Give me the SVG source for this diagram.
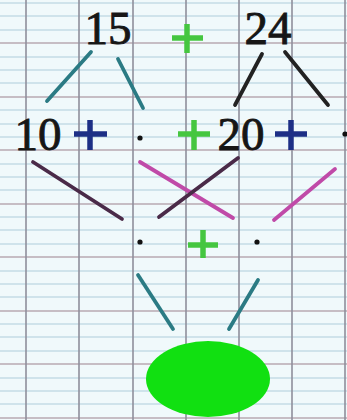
<svg xmlns="http://www.w3.org/2000/svg" width="347" height="420" viewBox="0 0 347 420">
<defs>
<style>
.minor{stroke:#c4dbe6;stroke-width:1.3}
.major{stroke:#b8a9b2;stroke-width:1.6}
.vert{stroke:#8f8f9c;stroke-width:1.6}
.num{font-family:"Liberation Serif",serif;font-size:47px;fill:#161616;stroke:#161616;stroke-width:0.9;text-anchor:middle}
.teal{stroke:#2b7b84;stroke-width:3.8;stroke-linecap:round}
.blk{stroke:#222;stroke-width:3.8;stroke-linecap:round}
.dk{stroke:#4a2a48;stroke-width:3.8;stroke-linecap:round}
.pink{stroke:#c04aa8;stroke-width:3.8;stroke-linecap:round}
.gp{stroke:#45c640;stroke-width:5.5}
.bp{stroke:#1d2f86;stroke-width:5.5}
</style>
</defs>
<rect width="347" height="420" fill="#f0f9fb"/>
<g id="grid">
<g class="minor">
<line x1="0" y1="3" x2="347" y2="3"/><line x1="0" y1="16" x2="347" y2="16"/><line x1="0" y1="30" x2="347" y2="30"/>
<line x1="0" y1="57" x2="347" y2="57"/><line x1="0" y1="70" x2="347" y2="70"/><line x1="0" y1="83" x2="347" y2="83"/>
<line x1="0" y1="110" x2="347" y2="110"/><line x1="0" y1="124" x2="347" y2="124"/><line x1="0" y1="137" x2="347" y2="137"/>
<line x1="0" y1="164" x2="347" y2="164"/><line x1="0" y1="177" x2="347" y2="177"/><line x1="0" y1="190" x2="347" y2="190"/>
<line x1="0" y1="217" x2="347" y2="217"/><line x1="0" y1="230" x2="347" y2="230"/><line x1="0" y1="244" x2="347" y2="244"/>
<line x1="0" y1="271" x2="347" y2="271"/><line x1="0" y1="284" x2="347" y2="284"/><line x1="0" y1="297" x2="347" y2="297"/>
<line x1="0" y1="324" x2="347" y2="324"/><line x1="0" y1="337" x2="347" y2="337"/><line x1="0" y1="351" x2="347" y2="351"/>
<line x1="0" y1="378" x2="347" y2="378"/><line x1="0" y1="391" x2="347" y2="391"/><line x1="0" y1="404" x2="347" y2="404"/>
</g>
<g class="major">
<line x1="0" y1="43" x2="347" y2="43"/><line x1="0" y1="97" x2="347" y2="97"/><line x1="0" y1="150" x2="347" y2="150"/>
<line x1="0" y1="204" x2="347" y2="204"/><line x1="0" y1="257" x2="347" y2="257"/><line x1="0" y1="311" x2="347" y2="311"/>
<line x1="0" y1="364" x2="347" y2="364"/><line x1="0" y1="418" x2="347" y2="418"/>
</g>
<g class="vert">
<line x1="26" y1="0" x2="26" y2="420"/><line x1="79" y1="0" x2="79" y2="420"/><line x1="133" y1="0" x2="133" y2="420"/>
<line x1="186" y1="0" x2="186" y2="420"/><line x1="239" y1="0" x2="239" y2="420"/><line x1="292" y1="0" x2="292" y2="420"/>
<line x1="345" y1="0" x2="345" y2="420"/>
</g>
</g>
<g id="connectors">
<line class="teal" x1="91" y1="52" x2="47" y2="101"/>
<line class="teal" x1="118" y1="59" x2="143" y2="108"/>
<line class="blk" x1="262" y1="54" x2="235" y2="105"/>
<line class="blk" x1="285" y1="52" x2="328" y2="105"/>
<line class="dk" x1="33" y1="162" x2="122" y2="219"/>
<line class="pink" x1="140" y1="162" x2="233" y2="218"/>
<line class="dk" x1="238" y1="158" x2="159" y2="217"/>
<line class="pink" x1="335" y1="169" x2="274" y2="220"/>
<line class="teal" x1="138" y1="275" x2="173" y2="329"/>
<line class="teal" x1="258" y1="280" x2="229" y2="329"/>
</g>
<g id="n15"><text class="num" x="108" y="44">15</text></g>
<g id="plusTop"><path class="gp" d="M172 38H203M187 24V53"/></g>
<g id="n24"><text class="num" x="268" y="44">24</text></g>
<g id="n10"><text class="num" x="38" y="150">10</text></g>
<g id="plus1"><path class="bp" d="M74 134H107M90 120V150"/></g>
<g id="dot1"><circle cx="140" cy="138" r="2.6" fill="#111"/></g>
<g id="plus2"><path class="gp" d="M178 134H210M194 120V150"/></g>
<g id="n20"><text class="num" x="241" y="150">20</text></g>
<g id="plus3"><path class="bp" d="M275 134H307M291 120V150"/></g>
<g id="dot2"><circle cx="345" cy="134" r="2.6" fill="#111"/></g>
<g id="dot3"><circle cx="140" cy="242" r="2.6" fill="#111"/></g>
<g id="plus4"><path class="gp" d="M188 245H218M203 230V258"/></g>
<g id="dot4"><circle cx="257" cy="242" r="2.6" fill="#111"/></g>
<g id="result"><ellipse cx="208" cy="379" rx="62" ry="38" fill="#11e011"/></g>
</svg>
